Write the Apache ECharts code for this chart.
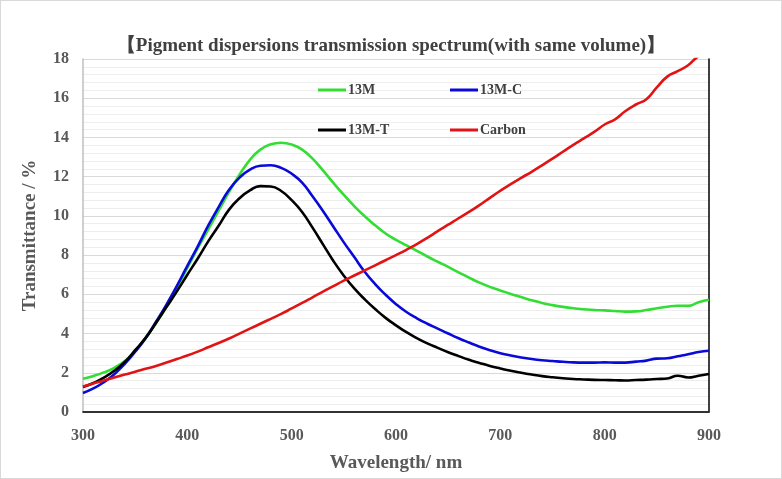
<!DOCTYPE html>
<html>
<head>
<meta charset="utf-8">
<script src="https://cdn.jsdelivr.net/npm/echarts@6/dist/echarts.min.js"></script>
<style>
html, body { margin: 0; padding: 0; background: #fff; }
#container { width: 782px; height: 479px; box-sizing: border-box; border: 1px solid #d9d9d9; }
</style>
</head>
<body>
<div id="container"></div>
<script>
// wavelength in nm, 300..900 every 10
var wavelength = [];
for (var w = 300; w <= 900; w += 10) wavelength.push(w);

var t13M = [1.7, 1.84, 2.02, 2.25, 2.6, 3.1, 3.78, 4.52, 5.38, 6.35,
  7.35, 8.35, 9.3, 10.27, 11.22, 12.1, 12.86, 13.38, 13.65, 13.73,
  13.64, 13.38, 12.92, 12.32, 11.68, 11.07, 10.5, 9.98, 9.52, 9.1,
  8.78, 8.5, 8.22, 7.93, 7.66, 7.4, 7.12, 6.85, 6.6, 6.38,
  6.2, 6.02, 5.86, 5.7, 5.56, 5.45, 5.36, 5.29, 5.24, 5.2,
  5.18, 5.15, 5.12, 5.13, 5.2, 5.29, 5.37, 5.42, 5.41, 5.6, 5.72];

var t13MC = [0.97, 1.2, 1.52, 1.93, 2.45, 3.07, 3.76, 4.6, 5.48, 6.43,
  7.45, 8.45, 9.5, 10.45, 11.33, 11.95, 12.36, 12.56, 12.58, 12.45,
  12.15, 11.7, 11.0, 10.25, 9.45, 8.65, 7.9, 7.15, 6.52, 5.98,
  5.5, 5.1, 4.78, 4.5, 4.25, 4.0, 3.76, 3.54, 3.33, 3.15,
  3.0, 2.88, 2.78, 2.7, 2.64, 2.6, 2.56, 2.53, 2.52, 2.52,
  2.53, 2.52, 2.52, 2.57, 2.62, 2.72, 2.74, 2.84, 2.94, 3.06, 3.12];

var t13MT = [1.27, 1.48, 1.75, 2.1, 2.55, 3.15, 3.78, 4.55, 5.35, 6.15,
  7.0, 7.83, 8.7, 9.5, 10.32, 10.9, 11.3, 11.52, 11.5, 11.27,
  10.8, 10.2, 9.4, 8.55, 7.7, 6.95, 6.3, 5.75, 5.25, 4.8,
  4.42, 4.07, 3.77, 3.5, 3.27, 3.05, 2.85, 2.66, 2.5, 2.35,
  2.22, 2.1, 2.0, 1.91, 1.83, 1.77, 1.72, 1.68, 1.66, 1.64,
  1.63, 1.62, 1.61, 1.63, 1.65, 1.68, 1.71, 1.85, 1.76, 1.85, 1.94];

var tCarbon = [1.3, 1.45, 1.6, 1.76, 1.91, 2.05, 2.2, 2.35, 2.52, 2.7,
  2.88, 3.08, 3.3, 3.52, 3.75, 4.0, 4.25, 4.5, 4.75, 5.0,
  5.28, 5.56, 5.85, 6.14, 6.42, 6.7, 6.96, 7.22, 7.48, 7.74,
  8.0, 8.27, 8.56, 8.88, 9.22, 9.55, 9.88, 10.2, 10.55, 10.92,
  11.28, 11.62, 11.94, 12.25, 12.58, 12.92, 13.27, 13.62, 13.95, 14.28,
  14.66, 14.92, 15.35, 15.68, 15.95, 16.55, 17.1, 17.38, 17.68, 18.15, 18.4];

var seriesNames = ['13M', '13M-C', '13M-T', 'Carbon'];
var seriesColors = ['#33dd33', '#0a0ad8', '#000000', '#e01414'];
var seriesValues = [t13M, t13MC, t13MT, tCarbon];

function pairs(vals) {
  var out = [];
  for (var i = 0; i < wavelength.length; i++) out.push([wavelength[i], vals[i]]);
  return out;
}

var labelStyle = { color: '#595959', fontFamily: 'Liberation Serif', fontWeight: 'bold' };

var dom = document.getElementById('container');
var myChart = echarts.init(dom);

var series = [];
for (var i = 0; i < seriesNames.length; i++) {
  series.push({
    name: seriesNames[i],
    type: 'line',
    smooth: 0.5,
    symbol: 'none',
    clip: true,
    lineStyle: { color: seriesColors[i], width: 2.6 },
    itemStyle: { color: seriesColors[i] },
    data: pairs(seriesValues[i])
  });
}

// one legend per item so they sit on a 2x2 layout like the original
var legendPos = [[312, 77], [444, 77], [312, 117], [444, 117]];
var legends = [];
for (var j = 0; j < seriesNames.length; j++) {
  legends.push({
    data: [seriesNames[j]],
    left: legendPos[j][0],
    top: legendPos[j][1],
    icon: 'rect',
    itemWidth: 28,
    itemHeight: 3,
    itemGap: 2,
    textStyle: { color: '#404040', fontFamily: 'Liberation Serif', fontWeight: 'bold', fontSize: 14, padding: [0, 0, 0, -3] }
  });
}

var option = {
  animation: false,
  backgroundColor: '#ffffff',
  title: {
    text: '【Pigment dispersions transmission spectrum(with same volume)】',
    left: 'center',
    top: 31,
    textStyle: { color: '#404040', fontFamily: 'Liberation Serif', fontWeight: 'bold', fontSize: 19 }
  },
  legend: legends,
  grid: { left: 82, right: 72, top: 58, bottom: 66 },
  xAxis: [{
    type: 'value',
    min: 300,
    max: 900,
    interval: 100,
    name: 'Wavelength/ nm',
    nameLocation: 'middle',
    nameGap: 42,
    nameTextStyle: { color: '#595959', fontFamily: 'Liberation Serif', fontWeight: 'bold', fontSize: 19 },
    axisLine: { lineStyle: { color: '#bfbfbf', width: 1.5 } },
    axisTick: { show: false },
    axisLabel: Object.assign({ fontSize: 16, margin: 16 }, labelStyle),
    splitLine: { show: false }
  }, {
    type: 'value',
    position: 'top',
    min: 300,
    max: 900,
    axisLine: { show: true, lineStyle: { color: '#000', width: 1.5 } },
    axisTick: { show: false },
    axisLabel: { show: false },
    splitLine: { show: false }
  }],
  yAxis: [{
    type: 'value',
    min: 0,
    max: 18,
    interval: 2,
    name: 'Transmittance / %',
    nameLocation: 'middle',
    nameGap: 43,
    nameTextStyle: { color: '#595959', fontFamily: 'Liberation Serif', fontWeight: 'bold', fontSize: 19 },
    axisLine: { show: true, lineStyle: { color: '#bfbfbf', width: 1.5 } },
    axisTick: { show: false },
    axisLabel: Object.assign({ fontSize: 16, margin: 14 }, labelStyle),
    splitLine: { lineStyle: { color: '#d9d9d9' } },
    minorTick: { show: false, splitNumber: 5 },
    minorSplitLine: { show: true, lineStyle: { color: '#eeeeee' } }
  }, {
    type: 'value',
    position: 'right',
    min: 0,
    max: 18,
    interval: 2,
    axisLine: { show: true, lineStyle: { color: '#000', width: 1.5 } },
    axisTick: { show: false },
    axisLabel: { show: false },
    splitLine: { show: false }
  }],
  series: series
};

if (option && typeof option === 'object') {
  myChart.setOption(option, true);
}
</script>
</body>
</html>
